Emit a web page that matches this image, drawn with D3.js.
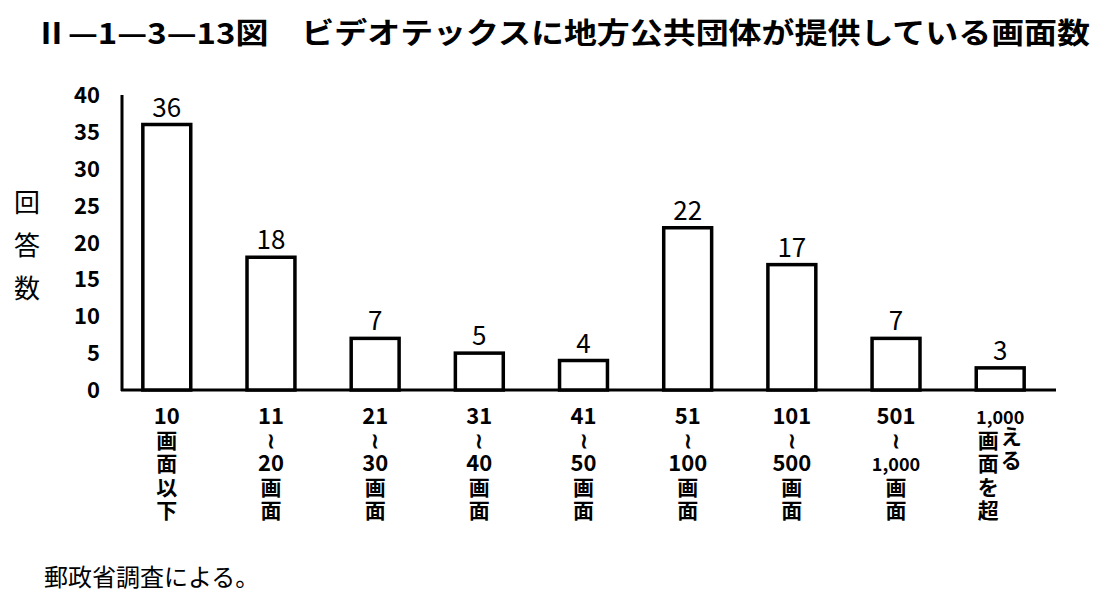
<!DOCTYPE html><html><head><meta charset="utf-8">
<script src="https://cdn.jsdelivr.net/npm/d3@7"></script>
<style>body{margin:0;background:#fff}text{font-family:"Noto Sans CJK JP","Liberation Serif",serif;fill:#000}</style></head><body>
<svg id="c" width="1113" height="609"></svg>
<script>
const categories=["10画面以下","11〜20画面","21〜30画面","31〜40画面","41〜50画面","51〜100画面","101〜500画面","501〜1,000画面","1,000画面を超える"];
const values=[36,18,7,5,4,22,17,7,3];
const labelLines=[["10","画","面","以","下"],["11","≀","20","画","面"],["21","≀","30","画","面"],["31","≀","40","画","面"],["41","≀","50","画","面"],["51","≀","100","画","面"],["101","≀","500","画","面"],["501","≀","1,000","画","面"],["1,000","画","面","を","超"]];
const yTicks=[0,5,10,15,20,25,30,35,40];
const svg=d3.select("#c");
const x=d3.scaleBand().domain(categories).range([122,1045]).paddingInner(0.54).paddingOuter(0.2);
const y=d3.scaleLinear().domain([0,40]).range([390,95]);
svg.append("text").attr("x",35).attr("y",44).attr("font-size",29).attr("font-weight","bold").attr("textLength",1055).attr("lengthAdjust","spacingAndGlyphs").text("Ⅱ—1—3—13図　ビデオテックスに地方公共団体が提供している画面数");
svg.append("line").attr("x1",122).attr("x2",122).attr("y1",95).attr("y2",391).attr("stroke","#000").attr("stroke-width",3);
svg.append("line").attr("x1",121).attr("x2",1056).attr("y1",390).attr("y2",390).attr("stroke","#000").attr("stroke-width",3);
svg.selectAll(".yt").data(yTicks).join("text").attr("x",100).attr("y",d=>y(d)+8).attr("text-anchor","end").attr("font-size",22).attr("font-family","Liberation Sans").attr("font-weight","bold").text(d=>d);
["回","答","数"].forEach((c,i)=>svg.append("text").attr("x",27).attr("y",212+i*43).attr("text-anchor","middle").attr("font-size",26).text(c));
svg.selectAll(".bar").data(values).join("rect").attr("x",(d,i)=>x(categories[i])).attr("width",x.bandwidth()).attr("y",d=>y(d)).attr("height",d=>390-y(d)).attr("fill","#fff").attr("stroke","#000").attr("stroke-width",3.5);
svg.selectAll(".v").data(values).join("text").attr("x",(d,i)=>x(categories[i])+x.bandwidth()/2).attr("y",d=>y(d)-8).attr("text-anchor","middle").attr("font-size",26).attr("font-family","Liberation Sans").text(d=>d);
labelLines.forEach((ls,i)=>{const cx=x(categories[i])+x.bandwidth()/2-(i==8?12:0);
 ls.forEach((t,j)=>{svg.append("text").attr("x",j==0&&i==8?cx+12:cx).attr("y",424+j*23.5).attr("text-anchor","middle")
  .attr("font-size",/^[0-9,]+$/.test(t)?(t.length>3?18:22):21).attr("font-weight","bold")
  .attr("font-family",/^[0-9,≀]+$/.test(t)?"Liberation Serif":"Noto Sans CJK JP").text(t);});
 if(i==8){["え","る"].forEach((t,j)=>svg.append("text").attr("x",cx+23).attr("y",444+j*23.5).attr("text-anchor","middle").attr("font-size",21).attr("font-weight","bold").text(t));}
});
svg.append("text").attr("x",44).attr("y",586).attr("font-size",24).text("郵政省調査による。");
</script></body></html>
